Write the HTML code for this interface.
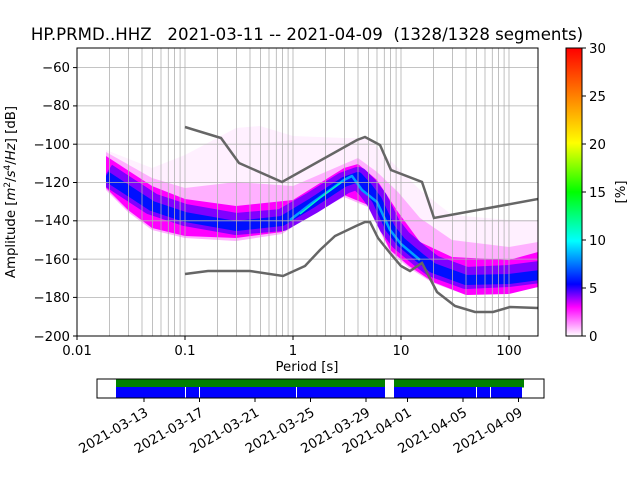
<!DOCTYPE html>
<html><head><meta charset="utf-8"><style>
body{margin:0;background:#fff;}
svg text{font-family:"DejaVu Sans","Liberation Sans",sans-serif;fill:#000;}
</style></head><body>
<svg width="640" height="480" viewBox="0 0 640 480" xmlns="http://www.w3.org/2000/svg">
<defs>
<clipPath id="ax"><rect x="77" y="48" width="461" height="288"/></clipPath>
<clipPath id="den"><rect x="106" y="48" width="432" height="288"/></clipPath>
<linearGradient id="cb" x1="0" y1="1" x2="0" y2="0">
<stop offset="0" stop-color="#ffffff"/>
<stop offset="0.1" stop-color="#ff00ff"/>
<stop offset="0.18" stop-color="#0000ff"/>
<stop offset="0.33" stop-color="#00ffff"/>
<stop offset="0.5" stop-color="#00ff00"/>
<stop offset="0.67" stop-color="#ffff00"/>
<stop offset="1" stop-color="#ff0000"/>
</linearGradient>
</defs>
<text x="307" y="40" font-size="16.6" text-anchor="middle" xml:space="preserve">HP.PRMD..HHZ   2021-03-11 -- 2021-04-09  (1328/1328 segments)</text>

<!-- density -->
<g clip-path="url(#den)">
<polygon fill="#fff0ff" points="106,150 152,168 185,155 236,128 260,126 293,136 344,138 368,138 390,160 420,190 452,215 509,220 538,220 538,287 509,293 466,295 433,283 409,268 390,252 368,207 344,197 312,214 282,234 236,241 185,238 152,230 128,212 106,190"/>
<polygon fill="#ffb0ff" points="106,152 152,178 185,188 236,182 293,186 344,164 358,158 377,172 398,192 420,218 452,240 509,247 538,242 538,287 509,293 466,295 433,283 409,268 390,252 368,207 344,197 312,214 282,234 236,241 185,238 152,230 128,212 106,190"/>
<polygon fill="#ff00ff" points="106,156 152,186 185,199 236,206 293,200 344,168 358,164 377,180 398,212 420,242 452,257 509,260 538,252 538,287 509,294 466,295 433,282 409,266 390,250 368,205 344,195 312,212 282,232 236,238 185,236 152,228 128,210 106,188"/>
<polyline fill="none" stroke="#8000ff" stroke-width="22" stroke-linejoin="round" stroke-linecap="butt" points="106,174 152,204 185,215 236,224 282,220 312,203 344,183 358,178 368,188 377,200 390,226 401,240 420,256 433,266 466,278 509,276 540,272"/>
<polyline fill="none" stroke="#0010ff" stroke-width="10" stroke-linejoin="round" stroke-linecap="butt" points="106,176 152,206 185,217 236,226 282,221 312,203 344,182 358,177 368,188 377,200 390,228 401,242 420,258 433,268 466,280 509,279 540,275"/>
<polyline fill="none" stroke="#00a0ff" stroke-width="2.5" stroke-linejoin="round" points="290,220 312,203 344,180 352,176 362,190 377,202 390,230 401,244 420,260"/>
<polyline fill="none" stroke="#00ffc0" stroke-width="1.2" points="300,214 320,198 342,182"/>
</g>

<!-- grid -->
<g stroke="#b0b0b0" stroke-width="0.8" clip-path="url(#ax)">
<line x1="77" x2="538" y1="67.6" y2="67.6"/><line x1="77" x2="538" y1="105.9" y2="105.9"/><line x1="77" x2="538" y1="144.2" y2="144.2"/><line x1="77" x2="538" y1="182.5" y2="182.5"/><line x1="77" x2="538" y1="220.8" y2="220.8"/><line x1="77" x2="538" y1="259.1" y2="259.1"/><line x1="77" x2="538" y1="297.4" y2="297.4"/>
<g id="dec">
<line x1="109.5" x2="109.5" y1="48" y2="336"/><line x1="128.5" x2="128.5" y1="48" y2="336"/><line x1="142" x2="142" y1="48" y2="336"/><line x1="152.5" x2="152.5" y1="48" y2="336"/><line x1="161" x2="161" y1="48" y2="336"/><line x1="168.3" x2="168.3" y1="48" y2="336"/><line x1="174.5" x2="174.5" y1="48" y2="336"/><line x1="180.1" x2="180.1" y1="48" y2="336"/><line x1="185" x2="185" y1="48" y2="336"/>
</g>
<use href="#dec" x="108"/><use href="#dec" x="216"/><use href="#dec" x="324"/>
</g>

<!-- noise models -->
<g fill="none" stroke="#666" stroke-width="2.5" clip-path="url(#ax)">
<polyline points="185,127 221,138 239,163 282,182 357,140 365,137 380,145 391,170 422,182 434,218 538,199"/>
<polyline points="185,274 208,271 250,271 283,276 305,266 320,250 335,236 356,226 365,222 370,222 378,238 390,253 401,266 410,271 422,263 437,292 455,306 475,312 493,312 510,307 538,308"/>
</g>

<rect x="77" y="48" width="461" height="288" fill="none" stroke="#000" stroke-width="1"/>
<g stroke="#000"><line x1="73" x2="77" y1="67.6" y2="67.6"/><line x1="73" x2="77" y1="105.9" y2="105.9"/><line x1="73" x2="77" y1="144.2" y2="144.2"/><line x1="73" x2="77" y1="182.5" y2="182.5"/><line x1="73" x2="77" y1="220.8" y2="220.8"/><line x1="73" x2="77" y1="259.1" y2="259.1"/><line x1="73" x2="77" y1="297.4" y2="297.4"/><line x1="73" x2="77" y1="336" y2="336"/>
<line x1="77" x2="77" y1="336" y2="340"/><line x1="185" x2="185" y1="336" y2="340"/><line x1="293" x2="293" y1="336" y2="340"/><line x1="401" x2="401" y1="336" y2="340"/><line x1="509" x2="509" y1="336" y2="340"/></g>
<g font-size="13.3" text-anchor="end">
<text x="70" y="72">−60</text><text x="70" y="110">−80</text><text x="70" y="149">−100</text><text x="70" y="187">−120</text><text x="70" y="225">−140</text><text x="70" y="264">−160</text><text x="70" y="302">−180</text><text x="70" y="341">−200</text>
</g>
<g font-size="13.3" text-anchor="middle">
<text x="77" y="355">0.01</text><text x="185" y="355">0.1</text><text x="293" y="355">1</text><text x="401" y="355">10</text><text x="509" y="355">100</text>
<text x="307" y="371">Period [s]</text>
</g>
<text transform="translate(15,192) rotate(-90)" font-size="13.3" text-anchor="middle">Amplitude [<tspan font-style="italic">m</tspan><tspan font-size="9" dy="-5">2</tspan><tspan dy="5">/</tspan><tspan font-style="italic">s</tspan><tspan font-size="9" dy="-5">4</tspan><tspan dy="5">/</tspan><tspan font-style="italic">Hz</tspan>] [dB]</text>

<rect x="566" y="48" width="16" height="288" fill="url(#cb)" stroke="#000" stroke-width="1"/>
<g stroke="#000"><line x1="582" x2="586" y1="48" y2="48"/><line x1="582" x2="586" y1="96" y2="96"/><line x1="582" x2="586" y1="144" y2="144"/><line x1="582" x2="586" y1="192" y2="192"/><line x1="582" x2="586" y1="240" y2="240"/><line x1="582" x2="586" y1="288" y2="288"/><line x1="582" x2="586" y1="336" y2="336"/></g>
<g font-size="13.3"><text x="589" y="53">30</text><text x="589" y="101">25</text><text x="589" y="149">20</text><text x="589" y="197">15</text><text x="589" y="245">10</text><text x="589" y="293">5</text><text x="589" y="341">0</text></g>
<text transform="translate(625,192) rotate(-90)" font-size="13.3" text-anchor="middle">[%]</text>

<rect x="116" y="379.5" width="269" height="8" fill="#008000"/>
<rect x="394" y="379.5" width="130" height="8" fill="#008000"/>
<rect x="116" y="387" width="269" height="10.5" fill="#0000ff"/>
<rect x="394" y="387" width="128" height="10.5" fill="#0000ff"/>
<g stroke="#fff" stroke-width="1"><line x1="185.5" x2="185.5" y1="387" y2="398"/><line x1="199.5" x2="199.5" y1="387" y2="398"/><line x1="296.5" x2="296.5" y1="387" y2="398"/><line x1="476.5" x2="476.5" y1="387" y2="398"/><line x1="490.5" x2="490.5" y1="387" y2="398"/></g>
<rect x="97" y="379" width="447" height="19" fill="none" stroke="#000" stroke-width="1"/>
<g stroke="#000"><line x1="144" x2="144" y1="398" y2="402"/><line x1="199.5" x2="199.5" y1="398" y2="402"/><line x1="255" x2="255" y1="398" y2="402"/><line x1="310.5" x2="310.5" y1="398" y2="402"/><line x1="366" x2="366" y1="398" y2="402"/><line x1="407.5" x2="407.5" y1="398" y2="402"/><line x1="463" x2="463" y1="398" y2="402"/><line x1="518.5" x2="518.5" y1="398" y2="402"/></g>
<g font-size="13.3" text-anchor="end">
<text transform="translate(149,415) rotate(-30)">2021-03-13</text>
<text transform="translate(204.5,415) rotate(-30)">2021-03-17</text>
<text transform="translate(260,415) rotate(-30)">2021-03-21</text>
<text transform="translate(315.5,415) rotate(-30)">2021-03-25</text>
<text transform="translate(371,415) rotate(-30)">2021-03-29</text>
<text transform="translate(412.5,415) rotate(-30)">2021-04-01</text>
<text transform="translate(468,415) rotate(-30)">2021-04-05</text>
<text transform="translate(523.5,415) rotate(-30)">2021-04-09</text>
</g>
</svg>
</body></html>
